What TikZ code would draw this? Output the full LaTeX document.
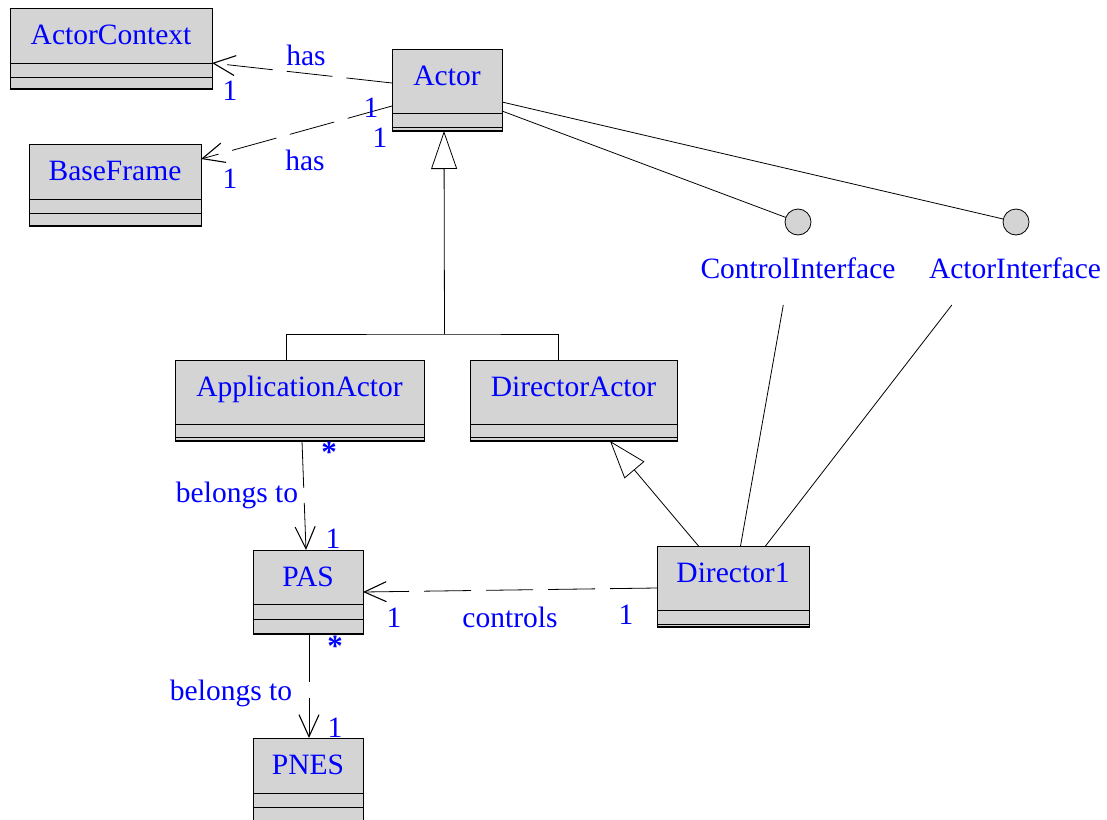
\documentclass[tikz,border=0pt]{standalone}
\usepackage{fontspec}
\setmainfont{Liberation Serif}
\usetikzlibrary{arrows.meta,calc}
\definecolor{boxgray}{RGB}{212,212,212}
\definecolor{txtblue}{RGB}{0,0,255}
\tikzset{
  lbl/.style={text=txtblue, font=\fontsize{29.5}{31}\selectfont, inner sep=0pt},
  star/.style={text=txtblue, font=\fontsize{31}{31}\selectfont\bfseries, inner sep=0pt},
  classbox/.style={draw=black, fill=boxgray, line width=0.8pt, inner sep=0pt, outer sep=0pt, rectangle},
  iface/.style={circle, draw=black, fill=boxgray, line width=0.8pt, minimum size=26pt, inner sep=0pt, outer sep=0pt},
  conn/.style={line width=0.8pt, draw=black},
  assoc/.style={conn, dash pattern=on 46pt off 14pt, -{Straight Barb[length=22pt,width=20pt,line width=1.1pt]}},
  gen/.style={conn, -{Triangle[open, length=38pt, width=26pt, line width=0.8pt]}},
}
\newcommand\umlclass[8]{%
  \node[classbox, minimum width={#4-#2}, minimum height={#5-#3}] (#1) at ({(#2+#4)/2},{(#3+#5)/2}) {};
  \draw[line width=0.8pt] (#2,#6) -- (#4,#6);
  \draw[line width=0.8pt] (#2,#7) -- (#4,#7);
  \draw[line width=1.6pt] (#2,#5) -- (#4,#5);
  \node[lbl, anchor=base] (#1-name) at ({(#2+#4)/2},{#3+36}) {#8};
}
\begin{document}
\begin{tikzpicture}[x=1pt, y=-1pt]
\clip (0,0) rectangle (1107,819);
\fill[white] (0,0) rectangle (1107,819);

% classes
\umlclass{actx}{10}{8}{212}{89}{63}{77}{ActorContext}
\umlclass{actor}{392}{49}{502}{131}{113}{127}{Actor}
\umlclass{bframe}{29}{144}{201}{226}{199}{213}{BaseFrame}
\umlclass{app}{175}{360}{424}{441}{424}{437}{ApplicationActor}
\umlclass{da}{470}{360}{677}{441}{424}{437}{DirectorActor}
\umlclass{pas}{253}{550}{363}{634}{604}{619}{PAS}
\umlclass{d1}{657}{546}{809}{627}{610}{624}{Director1}
\umlclass{pnes}{253}{738}{363}{826}{793}{807}{PNES}

% interfaces
\node[iface] (ci) at (798,222) {};
\node[iface] (ai) at (1016,222) {};
\node[lbl, anchor=base] (cil) at (798,278) {ControlInterface};
\node[lbl, anchor=base] (ail) at (1015,278) {ActorInterface};

% Actor to interfaces
\draw[conn] ([yshift=-12pt]actor.east) -- (ai);
\draw[conn] ([yshift=-21pt]actor.east) -- (ci);

% Director1 to interfaces
\coordinate (d1c) at ([xshift=7.5pt]d1.north);
\coordinate (d1a) at ([xshift=32.5pt]d1.north);
\draw[conn] (d1c) -- ($(d1c)!0.744!(ci.center)$);
\draw[conn] (d1a) -- ($(d1a)!0.744!(ai.center)$);

% generalization tree
\coordinate (j) at (444.5,334);
\draw[conn] ([xshift=-13.5pt]app.north) |- (j) -| ([xshift=-15.5pt]da.north);
\draw[gen] (j) -- ([xshift=-3pt]actor.south);
\draw[gen] ([xshift=-34.5pt]d1.north) -- ([xshift=36.5pt]da.south);

% associations
\draw[assoc] ([yshift=7pt]actor.west) -- ([yshift=-14.5pt]actx.east);
\draw[assoc] ([yshift=-16pt]actor.west) -- ([yshift=26pt]bframe.east);
\draw[assoc, dash pattern=on 47pt off 15pt] ([xshift=2.5pt]app.south) -- ([xshift=-2pt]pas.north);
\draw[assoc, dash pattern=on 47pt off 15pt] ([yshift=-1.5pt]d1.west) -- (pas.east);
\draw[assoc, dash pattern=on 48pt off 16pt] ([xshift=1pt]pas.south) -- ([xshift=1pt]pnes.north);

% association labels
\node[lbl, anchor=base] (has1) at (306,65) {has};
\node[lbl, anchor=base] (m1) at (230,100) {1};
\node[lbl, anchor=base] (m2) at (371,117) {1};
\node[lbl, anchor=base] (m3) at (380,147) {1};
\node[lbl, anchor=base] (has2) at (305,170) {has};
\node[lbl, anchor=base] (m4) at (230,188) {1};

\node[star, anchor=base] (s1) at (329,462) {*};
\node[lbl, anchor=base] (bt1) at (237,502) {belongs to};
\node[lbl, anchor=base] (m5) at (333,548) {1};

\node[lbl, anchor=base] (m6) at (394,627) {1};
\node[lbl, anchor=base] (ctl) at (510,627) {controls};
\node[lbl, anchor=base] (m7) at (626,624) {1};

\node[star, anchor=base] (s2) at (335,656) {*};
\node[lbl, anchor=base] (bt2) at (231,700) {belongs to};
\node[lbl, anchor=base] (m8) at (335,737) {1};
\end{tikzpicture}
\end{document}
